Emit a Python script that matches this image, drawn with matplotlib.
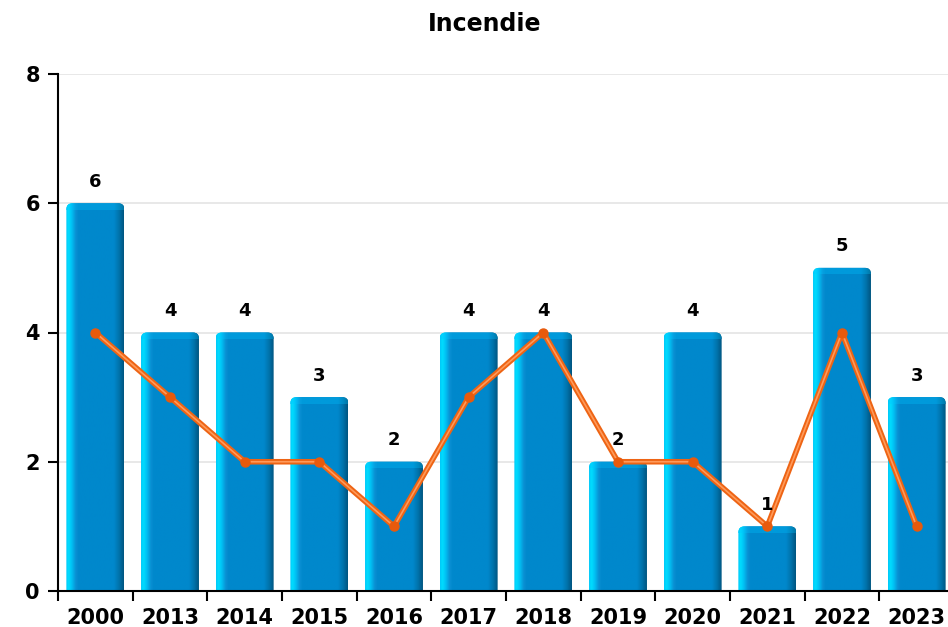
import numpy as np
import matplotlib
matplotlib.use("Agg")
import matplotlib.pyplot as plt
from matplotlib.patches import FancyBboxPatch
from matplotlib.colors import to_rgb

years = ["2000", "2013", "2014", "2015", "2016", "2017", "2018", "2019", "2020", "2021", "2022", "2023"]
bar_values = [6, 4, 4, 3, 2, 4, 4, 2, 4, 1, 5, 3]
line_values = [4, 3, 2, 2, 1, 3, 4, 2, 2, 1, 4, 1]

W, H = 948, 627
fig = plt.figure(figsize=(W / 100, H / 100), dpi=100)
# plot area runs past the right edge like the original
ax = fig.add_axes([58 / W, 1 - 591 / H, 896 / W, 517 / H])

x = np.arange(len(years))
bw = 0.776
ax.set_xlim(-0.5, len(years) - 0.5)
ax.set_ylim(0, 8)

# base bars (hidden) -> used for geometry
bars = ax.bar(x, bar_values, width=bw, color="#0088CC", alpha=0)

# horizontal gradient for the cylinder look
stops = [(0.0, "#00C8F8"), (0.04, "#00DDFF"), (0.09, "#00C4F6"), (0.17, "#0A8FD2"),
         (0.22, "#0088CC"), (0.83, "#0088CC"), (0.92, "#0072AA"), (1.0, "#005580")]
xs = np.linspace(0, 1, 160)
grad = np.zeros((1, len(xs), 3))
for c in range(3):
    grad[0, :, c] = np.interp(xs, [s[0] for s in stops], [to_rgb(s[1])[c] for s in stops])
top_grad = grad * 0.7 + 0.3 * np.array(to_rgb("#00C4FF"))

for b in bars:
    x0, w, h = b.get_x(), b.get_width(), b.get_height()
    patch = FancyBboxPatch((x0, -0.3), w, h + 0.3,
                           boxstyle="round,pad=0,rounding_size=0.08",
                           mutation_aspect=1.16, facecolor="none", edgecolor="none",
                           transform=ax.transData)
    ax.add_patch(patch)
    im = ax.imshow(grad, extent=(x0, x0 + w, 0, h), aspect="auto", zorder=2,
                   interpolation="bilinear")
    im.set_clip_path(patch)
    im2 = ax.imshow(top_grad, extent=(x0, x0 + w, h - 0.1, h), aspect="auto", zorder=2.1,
                    interpolation="bilinear")
    im2.set_clip_path(patch)
    ax.annotate(str(int(h)), (b.get_x() + w / 2, h), xytext=(0, 9), textcoords="offset points",
                ha="center", va="bottom", fontsize=13, fontweight="bold", color="black", zorder=6)

ax.plot(x, line_values, color="#EE6414", lw=4, zorder=4, solid_joinstyle="round")
ax.plot(x, line_values, color="#FF9A5A", lw=1.2, zorder=4.1)
ax.plot(x, line_values, ls="none", marker="o", ms=6.5, color="#E85A0C", zorder=4.2)

ax.set_yticks([0, 2, 4, 6, 8])
ax.yaxis.grid(True, color="#E4E4E4", lw=1.2, zorder=0)
ax.set_axisbelow(True)
ax.tick_params(axis="y", length=7, width=1.5, pad=6, labelsize=15)
for lab in ax.get_yticklabels():
    lab.set_fontweight("bold")

ax.set_xticks(np.arange(-0.5, len(years)), labels=[])
ax.set_xticks(x, minor=True)
ax.set_xticklabels(years, minor=True, fontsize=15, fontweight="bold")
ax.tick_params(axis="x", which="major", length=7, width=1.5)
ax.tick_params(axis="x", which="minor", length=0, pad=12)

for s in ["top", "right"]:
    ax.spines[s].set_visible(False)
ax.spines["left"].set_linewidth(1.5)
ax.spines["bottom"].set_linewidth(1.5)

fig.text(485 / W, 1 - 24 / H, "Incendie", ha="center", va="center", fontsize=17, fontweight="bold")

fig.savefig("out.png", dpi=100)
